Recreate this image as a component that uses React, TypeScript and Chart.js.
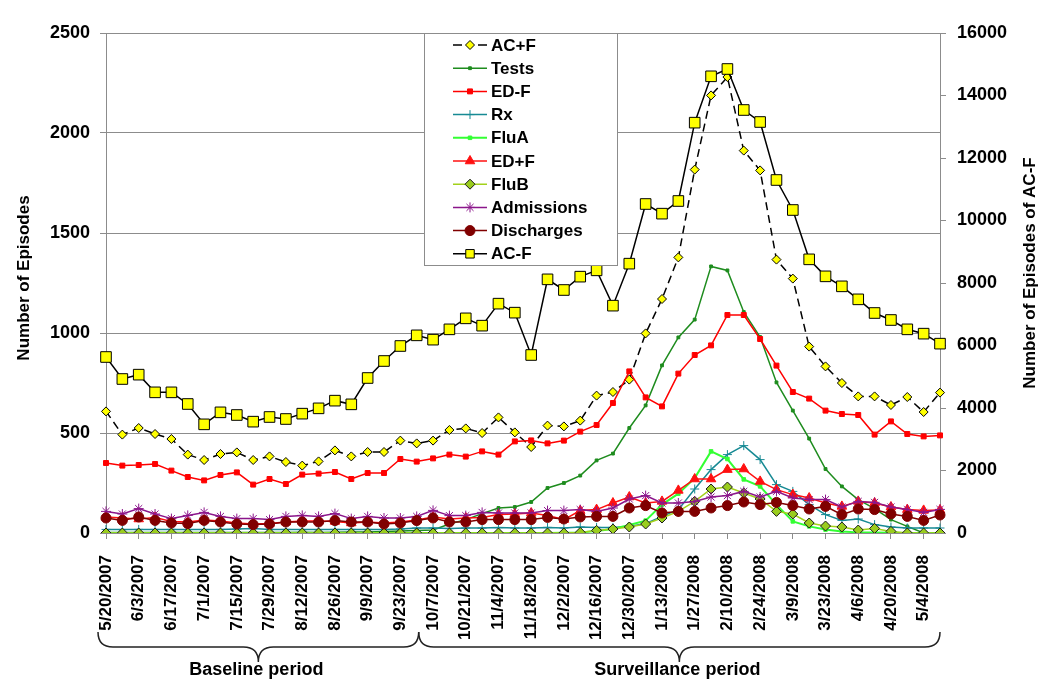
import React, { useEffect, useRef } from 'react';
import { Chart, registerables } from 'chart.js';

Chart.register(...registerables);

// ---------------- DATA ----------------
const weeks = [
  '5/20/2007', '5/27/2007', '6/3/2007', '6/10/2007', '6/17/2007', '6/24/2007', '7/1/2007', '7/8/2007',
  '7/15/2007', '7/22/2007', '7/29/2007', '8/5/2007', '8/12/2007', '8/19/2007', '8/26/2007', '9/2/2007',
  '9/9/2007', '9/16/2007', '9/23/2007', '9/30/2007', '10/7/2007', '10/14/2007', '10/21/2007', '10/28/2007',
  '11/4/2007', '11/11/2007', '11/18/2007', '11/25/2007', '12/2/2007', '12/9/2007', '12/16/2007', '12/23/2007',
  '12/30/2007', '1/6/2008', '1/13/2008', '1/20/2008', '1/27/2008', '2/3/2008', '2/10/2008', '2/17/2008',
  '2/24/2008', '3/2/2008', '3/9/2008', '3/16/2008', '3/23/2008', '3/30/2008', '4/6/2008', '4/13/2008',
  '4/20/2008', '4/27/2008', '5/4/2008', '5/11/2008',
];

const acPlusF = [
  608, 492, 525, 495, 470, 392, 365, 395, 403, 365, 383, 355, 337, 358, 413, 383, 405, 405, 462, 448,
  462, 515, 523, 500, 578, 503, 430, 537, 533, 562, 687, 705, 767, 998, 1170, 1378, 1817, 2188, 2280, 1912,
  1813, 1367, 1272, 932, 833, 750, 683, 683, 640, 680, 605, 702,
];

const tests = [
  2, 3, 2, 3, 2, 3, 2, 3, 3, 2, 3, 3, 4, 3, 4, 5, 5, 8, 10, 12,
  15, 45, 67, 97, 125, 130, 155, 225, 250, 287, 363, 397, 525, 638, 838, 978, 1067, 1333, 1313, 1105,
  980, 753, 612, 472, 320, 233, 167, 122, 67, 33, 0, 0,
];

const edMinusF = [
  350, 337, 340, 345, 312, 280, 263, 290, 303, 242, 270, 245, 292, 297, 305, 270, 300, 300, 370, 357,
  373, 392, 382, 408, 392, 458, 463, 448, 462, 507, 540, 650, 808, 678, 633, 797, 890, 938, 1090, 1090,
  970, 837, 705, 672, 612, 595, 590, 492, 558, 495, 483, 488,
];

const rx = [
  18, 17, 18, 18, 18, 17, 17, 18, 20, 22, 18, 18, 17, 17, 18, 18, 18, 17, 20, 25,
  25, 22, 25, 25, 27, 25, 25, 28, 25, 30, 28, 28, 32, 47, 83, 117, 220, 317, 392, 437,
  367, 242, 208, 142, 92, 63, 70, 42, 30, 25, 25, 25,
];

const fluA = [
  0, 0, 0, 0, 0, 0, 0, 0, 0, 0, 0, 0, 0, 0, 0, 0, 0, 0, 0, 0,
  0, 0, 0, 0, 0, 0, 0, 0, 1, 3, 10, 20, 40, 62, 142, 197, 275, 408, 370, 268,
  233, 142, 58, 33, 17, 8, 3, 2, 1, 0, 0, 0,
];

const edPlusF = [
  80, 75, 70, 78, 58, 55, 65, 60, 50, 45, 48, 55, 60, 60, 58, 50, 55, 50, 55, 65,
  80, 70, 75, 78, 92, 95, 100, 87, 67, 112, 117, 150, 180, 150, 158, 213, 270, 270, 317, 320,
  258, 217, 192, 175, 150, 133, 158, 150, 130, 117, 113, 115,
];

const fluB = [
  0, 0, 0, 0, 0, 0, 0, 0, 0, 0, 0, 0, 0, 0, 0, 0, 0, 0, 0, 0,
  0, 0, 0, 0, 0, 0, 0, 0, 0, 3, 13, 20, 30, 45, 75, 108, 158, 220, 230, 200,
  170, 108, 95, 50, 35, 30, 15, 23, 8, 0, 0, 0,
];

const admissions = [
  108, 95, 122, 95, 72, 88, 103, 83, 72, 72, 67, 83, 88, 83, 97, 72, 83, 75, 75, 83,
  113, 87, 87, 103, 100, 100, 100, 112, 112, 117, 108, 125, 170, 187, 150, 150, 158, 180, 187, 208,
  180, 208, 175, 167, 167, 130, 158, 153, 130, 117, 103, 118,
];

const discharges = [
  75, 63, 80, 63, 50, 47, 63, 55, 45, 42, 45, 55, 55, 55, 62, 55, 55, 45, 50, 62,
  75, 55, 55, 67, 67, 67, 67, 78, 70, 80, 83, 83, 125, 137, 100, 108, 108, 125, 137, 155,
  142, 153, 137, 120, 133, 92, 120, 117, 95, 83, 63, 90,
];

// right axis
const acMinusF = [
  5632, 4928, 5067, 4501, 4501, 4128, 3477, 3861, 3776, 3563, 3712, 3648, 3819, 3989, 4235, 4117, 4960, 5504, 5984, 6325,
  6187, 6517, 6869, 6635, 7339, 7051, 5696, 8117, 7776, 8203, 8405, 7275, 8619, 10528, 10219, 10624, 13131, 14614, 14848, 13536,
  13152, 11296, 10336, 8757, 8213, 7893, 7477, 7040, 6816, 6517, 6379, 6059,
];

const leftTitle = 'Number of Episodes';
const rightTitle = 'Number of Episodes of AC-F';
const periodLabels = ['Baseline period', 'Surveillance period'];
const baselineLastIndex = 19;

// ---------------- STYLE ----------------
const FONT = '"Liberation Sans", Arial, Helvetica, sans-serif';
const GRID = '#8c8c8c';

type SeriesDef = {
  label: string;
  data: number[];
  color: string;
  width: number;
  dash?: number[];
  point: string;
  radius: number;
  fill: string;
  stroke: string;
  axis: string;
};

const series: SeriesDef[] = [
  { label: 'AC+F', data: acPlusF, color: '#000000', width: 1.5, dash: [8, 5], point: 'rectRot', radius: 4.5, fill: '#FFFF00', stroke: '#000000', axis: 'y' },
  { label: 'Tests', data: tests, color: '#1E8C1E', width: 1.5, point: 'rect', radius: 2, fill: '#1E8C1E', stroke: '#1E8C1E', axis: 'y' },
  { label: 'ED-F', data: edMinusF, color: '#FF0000', width: 1.5, point: 'rect', radius: 3.5, fill: '#FF0000', stroke: '#FF0000', axis: 'y' },
  { label: 'Rx', data: rx, color: '#178A94', width: 1.5, point: 'cross', radius: 4.5, fill: '#178A94', stroke: '#178A94', axis: 'y' },
  { label: 'FluA', data: fluA, color: '#33FF33', width: 2, point: 'rect', radius: 2.5, fill: '#33FF33', stroke: '#33FF33', axis: 'y' },
  { label: 'ED+F', data: edPlusF, color: '#FF1010', width: 1.5, point: 'triangle', radius: 5.5, fill: '#FF1010', stroke: '#FF1010', axis: 'y' },
  { label: 'FluB', data: fluB, color: '#A2D11A', width: 1.5, point: 'rectRot', radius: 5, fill: '#9ACD1E', stroke: '#1a1a1a', axis: 'y' },
  { label: 'Admissions', data: admissions, color: '#8B168B', width: 1.5, point: 'star', radius: 5, fill: '#8B168B', stroke: '#8B168B', axis: 'y' },
  { label: 'Discharges', data: discharges, color: '#800000', width: 1.5, point: 'circle', radius: 5, fill: '#800000', stroke: '#800000', axis: 'y' },
  { label: 'AC-F', data: acMinusF, color: '#000000', width: 1.5, point: 'rect', radius: 7.5, fill: '#FFFF00', stroke: '#000000', axis: 'y1' },
];

function drawMarker(ctx: CanvasRenderingContext2D, s: SeriesDef, x: number, y: number) {
  const r = s.radius;
  ctx.save();
  ctx.setLineDash([]);
  ctx.fillStyle = s.fill;
  ctx.strokeStyle = s.stroke;
  ctx.lineWidth = 1;
  ctx.beginPath();
  if (s.point === 'circle') {
    ctx.arc(x, y, r, 0, Math.PI * 2);
    ctx.fill();
    ctx.stroke();
  } else if (s.point === 'rect') {
    const h = r * Math.SQRT1_2;
    ctx.rect(x - h, y - h, 2 * h, 2 * h);
    ctx.fill();
    ctx.stroke();
  } else if (s.point === 'rectRot') {
    ctx.moveTo(x, y - r);
    ctx.lineTo(x + r, y);
    ctx.lineTo(x, y + r);
    ctx.lineTo(x - r, y);
    ctx.closePath();
    ctx.fill();
    ctx.stroke();
  } else if (s.point === 'triangle') {
    let a = 0;
    ctx.moveTo(x + Math.sin(a) * r, y - Math.cos(a) * r);
    a += (2 * Math.PI) / 3;
    ctx.lineTo(x + Math.sin(a) * r, y - Math.cos(a) * r);
    a += (2 * Math.PI) / 3;
    ctx.lineTo(x + Math.sin(a) * r, y - Math.cos(a) * r);
    ctx.closePath();
    ctx.fill();
    ctx.stroke();
  } else if (s.point === 'cross') {
    ctx.moveTo(x, y - r);
    ctx.lineTo(x, y + r);
    ctx.moveTo(x - r, y);
    ctx.lineTo(x + r, y);
    ctx.stroke();
  } else if (s.point === 'star') {
    const d = r * Math.SQRT1_2;
    ctx.moveTo(x, y - r);
    ctx.lineTo(x, y + r);
    ctx.moveTo(x - r, y);
    ctx.lineTo(x + r, y);
    ctx.moveTo(x - d, y - d);
    ctx.lineTo(x + d, y + d);
    ctx.moveTo(x - d, y + d);
    ctx.lineTo(x + d, y - d);
    ctx.stroke();
  }
  ctx.restore();
}

function drawBrace(ctx: CanvasRenderingContext2D, x1: number, x2: number, yTop: number) {
  const yMid = yTop + 15;
  const yTip = yTop + 30;
  const xm = (x1 + x2) / 2;
  const c = 15;
  ctx.beginPath();
  ctx.moveTo(x1, yTop);
  ctx.quadraticCurveTo(x1, yMid, x1 + c, yMid);
  ctx.lineTo(xm - c, yMid);
  ctx.quadraticCurveTo(xm, yMid, xm, yTip);
  ctx.quadraticCurveTo(xm, yMid, xm + c, yMid);
  ctx.lineTo(x2 - c, yMid);
  ctx.quadraticCurveTo(x2, yMid, x2, yTop);
  ctx.stroke();
}

const decorPlugin = {
  id: 'decor',
  afterDraw(chart: any) {
    const ctx: CanvasRenderingContext2D = chart.ctx;
    const xs = chart.scales.x;
    ctx.save();

    // axis titles
    ctx.fillStyle = '#000';
    ctx.font = `bold 17px ${FONT}`;
    ctx.textAlign = 'center';
    ctx.textBaseline = 'middle';
    ctx.save();
    ctx.translate(24, 278);
    ctx.rotate(-Math.PI / 2);
    ctx.fillText(leftTitle, 0, 0);
    ctx.restore();
    ctx.save();
    ctx.translate(1030, 273);
    ctx.rotate(-Math.PI / 2);
    ctx.fillText(rightTitle, 0, 0);
    ctx.restore();

    // legend
    const bx = 424, by = 33, bw = 193, bh = 232;
    ctx.fillStyle = '#ffffff';
    ctx.fillRect(bx, by, bw, bh);
    ctx.strokeStyle = GRID;
    ctx.lineWidth = 1;
    ctx.strokeRect(bx + 0.5, by + 0.5, bw, bh);
    ctx.font = `bold 17px ${FONT}`;
    ctx.textAlign = 'left';
    ctx.textBaseline = 'middle';
    series.forEach((s, k) => {
      const y = 45 + k * 23.2;
      ctx.save();
      ctx.strokeStyle = s.color;
      ctx.lineWidth = s.width;
      ctx.setLineDash([]);
      ctx.beginPath();
      if (s.dash) {
        ctx.moveTo(453, y);
        ctx.lineTo(462, y);
        ctx.moveTo(478, y);
        ctx.lineTo(487, y);
      } else {
        ctx.moveTo(453, y);
        ctx.lineTo(487, y);
      }
      ctx.stroke();
      ctx.restore();
      drawMarker(ctx, { ...s, radius: Math.min(s.radius, 6) }, 470, y);
      ctx.fillStyle = '#000';
      ctx.fillText(s.label, 491, y + 1);
    });

    // braces
    const x0 = xs.getPixelForValue(0) - 8;
    const xb = xs.getPixelForValue(baselineLastIndex) + 2;
    const xe = xs.getPixelForValue(weeks.length - 1);
    ctx.strokeStyle = '#222';
    ctx.lineWidth = 1.5;
    drawBrace(ctx, x0, xb, 632);
    drawBrace(ctx, xb, xe, 632);
    ctx.fillStyle = '#000';
    ctx.font = `bold 18px ${FONT}`;
    ctx.textAlign = 'center';
    ctx.textBaseline = 'middle';
    ctx.fillText(periodLabels[0], (x0 + xb) / 2 - 2, 670);
    ctx.fillText(periodLabels[1], (xb + xe) / 2 - 2, 670);

    ctx.restore();
  },
};

export default function App() {
  const ref = useRef<HTMLCanvasElement | null>(null);

  useEffect(() => {
    if (!ref.current) return;
    const datasets = series.map((s, k) => ({
      label: s.label,
      data: s.data,
      yAxisID: s.axis,
      borderColor: s.color,
      backgroundColor: s.fill,
      borderWidth: s.width,
      borderDash: s.dash || [],
      pointStyle: s.point,
      pointRadius: s.radius,
      pointBackgroundColor: s.fill,
      pointBorderColor: s.stroke,
      pointBorderWidth: 1,
      tension: 0,
      fill: false,
      order: series.length - k,
    }));

    const chart = new Chart(ref.current, {
      type: 'line',
      data: { labels: weeks, datasets },
      plugins: [decorPlugin],
      options: {
        animation: false,
        responsive: true,
        maintainAspectRatio: false,
        layout: { padding: { top: 33, left: 0, right: 0, bottom: 0 } },
        plugins: { legend: { display: false }, tooltip: { enabled: false } },
        scales: {
          x: {
            type: 'category',
            offset: false,
            afterFit: (s: any) => { s.height = 158; },
            grid: { drawOnChartArea: false, drawTicks: true, tickLength: 6, color: GRID },
            border: { display: true, color: GRID, width: 1 },
            ticks: {
              autoSkip: false,
              maxRotation: 90,
              minRotation: 90,
              padding: 16,
              color: '#000',
              font: { family: FONT, size: 17, weight: 'bold' },
              callback: (_v: any, i: number) => (i % 2 === 0 ? weeks[i] : null),
            },
          },
          y: {
            position: 'left',
            min: 0,
            max: 2500,
            afterFit: (s: any) => { s.width = 106; },
            grid: { color: GRID, lineWidth: 1, tickLength: 6, drawTicks: true },
            border: { display: true, color: GRID, width: 1 },
            ticks: {
              stepSize: 500,
              padding: 10,
              color: '#000',
              font: { family: FONT, size: 18, weight: 'bold' },
              callback: (v: any) => String(v),
            },
          },
          y1: {
            position: 'right',
            min: 0,
            max: 16000,
            afterFit: (s: any) => { s.width = 110; },
            grid: { drawOnChartArea: false, drawTicks: true, tickLength: 6, color: GRID },
            border: { display: true, color: GRID, width: 1 },
            ticks: {
              stepSize: 2000,
              padding: 11,
              color: '#000',
              font: { family: FONT, size: 18, weight: 'bold' },
              callback: (v: any) => String(v),
            },
          },
        },
      },
    } as any);
    return () => chart.destroy();
  }, []);

  return (
    <div style={{ position: 'fixed', left: 0, top: 0, width: 1050, height: 691, background: '#fff' }}>
      <canvas ref={ref} />
    </div>
  );
}
